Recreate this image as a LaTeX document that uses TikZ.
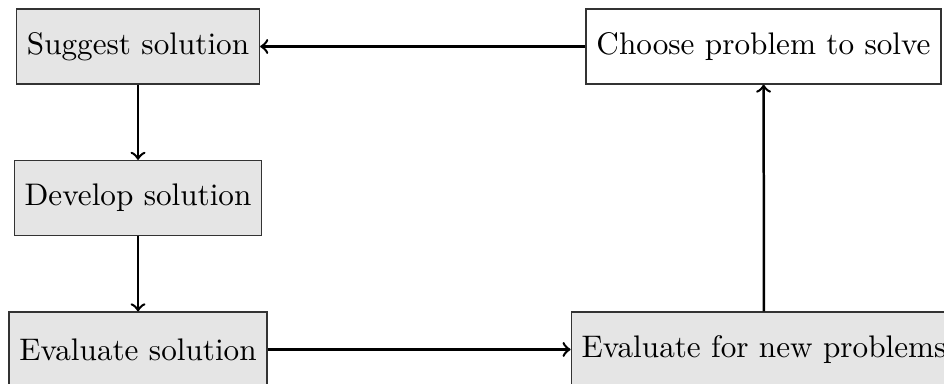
\documentclass[tikz,border=0pt]{standalone}
\begin{document}
\begin{tikzpicture}[
    stepbox/.style={draw=black!80, fill=gray!20, minimum height=24pt, inner sep=3.33pt},
    openbox/.style={stepbox, fill=white}
  ]
      \clip (0,0) rectangle (10.634,-4.315);
      \draw
        (1.555,-0.524) node[stepbox] (suggest){Suggest solution}
        (8.601,-0.524) node[openbox] (choose){Choose problem to solve}
        (1.555,-2.230) node[stepbox] (develop){Develop solution}
        (1.555,-3.937) node[stepbox] (evalsol){Evaluate solution}
        (8.607,-3.937) node[stepbox] (evalnew){Evaluate for new problems};
      \begin{scope}[->, thick]
        \draw (choose) to (suggest);
        \draw (suggest) to (develop);
        \draw (develop) to (evalsol);
        \draw (evalsol) to (evalnew);
        \draw (evalnew) to (choose);
      \end{scope}
    \end{tikzpicture}
\end{document}
